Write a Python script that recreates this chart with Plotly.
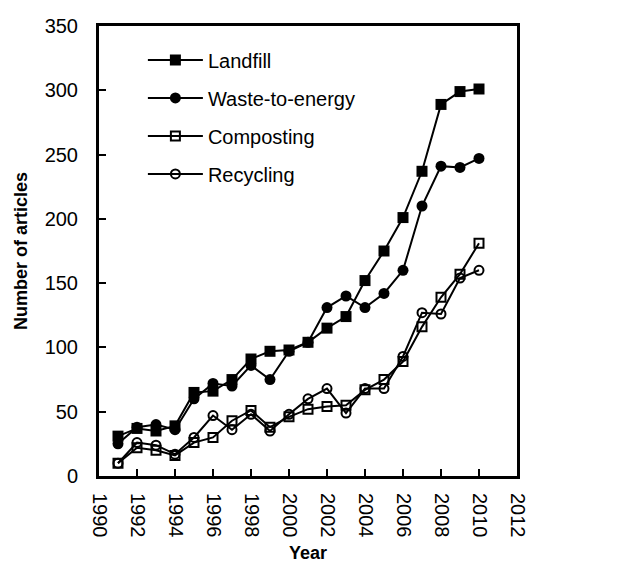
import plotly.graph_objects as go

years = list(range(1991, 2011))
landfill = [31, 37, 35, 39, 65, 66, 75, 91, 97, 98, 104, 115, 124, 152, 175, 201, 237, 289, 299, 301]
waste_to_energy = [25, 38, 40, 36, 60, 72, 70, 86, 75, 97, 104, 131, 140, 131, 142, 160, 210, 241, 240, 247]
composting = [10, 22, 20, 16, 26, 30, 43, 51, 38, 46, 52, 54, 55, 67, 75, 89, 116, 139, 157, 181]
recycling = [10, 26, 24, 17, 30, 47, 36, 48, 35, 48, 60, 68, 49, 68, 68, 93, 127, 126, 154, 160]

series = [
    ("Landfill", landfill, "square"),
    ("Waste-to-energy", waste_to_energy, "circle"),
    ("Composting", composting, "square-open"),
    ("Recycling", recycling, "circle-open"),
]

fig = go.Figure()
for i, (name, vals, sym) in enumerate(series):
    fig.add_trace(go.Scatter(
        x=years, y=vals, name=name, mode="lines+markers",
        line=dict(color="black", width=2),
        marker=dict(symbol=sym, size=9 if "open" in sym else 11, color="black",
                    line=dict(color="black", width=2 if "open" in sym else 0)),
        legendgroup=f"g{i}",
    ))

fig.update_layout(
    width=611, height=561,
    margin=dict(l=91, r=102, t=18, b=93),
    paper_bgcolor="white", plot_bgcolor="white",
    font=dict(family="Liberation Sans, Arial, sans-serif", size=20, color="black"),
    showlegend=True,
    legend=dict(x=0.105, y=0.968, xanchor="left", yanchor="top",
                bgcolor="rgba(0,0,0,0)", font=dict(size=20),
                tracegroupgap=9, itemwidth=55),
    xaxis=dict(range=[1990, 2012], tickmode="linear", tick0=1990, dtick=2,
               tickangle=90, ticks="inside", ticklen=7, tickwidth=2, tickcolor="black",
               tickfont=dict(size=20), ticklabelstandoff=10, automargin=False,
               showline=True, linewidth=3, linecolor="black", mirror=True,
               showgrid=False, zeroline=False,
               title=dict(text="<b>Year</b>", font=dict(size=18), standoff=10)),
    yaxis=dict(range=[0, 350], tickmode="linear", tick0=0, dtick=50,
               ticks="inside", ticklen=7, tickwidth=2, tickcolor="black",
               tickfont=dict(size=20), ticklabelstandoff=14, automargin=False,
               showline=True, linewidth=3, linecolor="black", mirror=True,
               showgrid=False, zeroline=False,
               title=dict(text="<b>Number of articles</b>", font=dict(size=18), standoff=13)),
)

fig.write_html("out.html")
